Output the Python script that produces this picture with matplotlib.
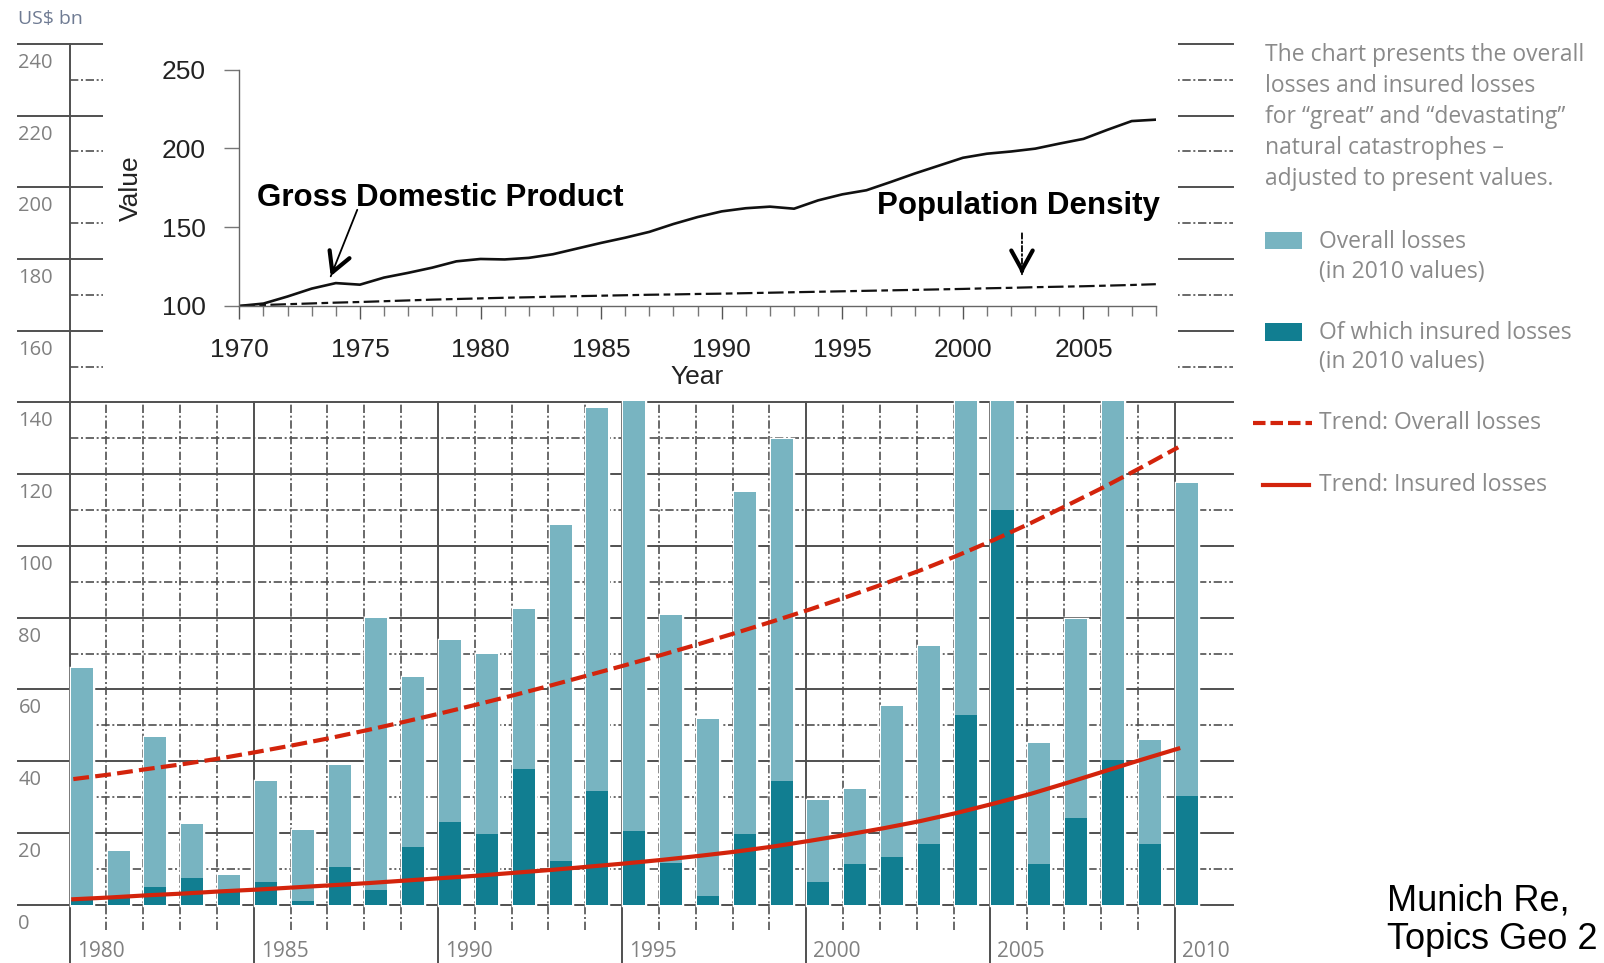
import numpy as np
import matplotlib.pyplot as plt
from matplotlib.patches import Rectangle
from matplotlib.lines import Line2D

plt.rcParams['font.family'] = ['Liberation Sans', 'DejaVu Sans']

# Natural catastrophes 1980-2010, US$ bn in 2010 values
years = list(range(1980, 2011))
overall = [66, 15, 46.8, 22.4, 8.2, 34.6, 20.8, 38.8, 79.8, 63.4,
           73.8, 70, 82.3, 105.8, 138.4, 175, 80.7, 51.8, 115, 129.7,
           29.1, 32.1, 55.4, 72, 150, 225, 45, 79.7, 195, 46, 117.5]
insured = [1.2, 2.5, 5, 7.5, 3.5, 6.3, 1, 10.6, 4, 16.2,
           23, 19.8, 37.7, 12.3, 31.8, 20.5, 11.5, 2.5, 19.8, 34.6,
           6.4, 11.2, 13.2, 16.9, 53, 110, 11.3, 24.2, 40.2, 16.9, 30.2]
trend_overall = [35.0, 36.3, 37.8, 39.2, 40.8, 42.6, 44.5, 46.5, 48.7, 51.0,
                 53.4, 55.9, 58.5, 61.2, 64.0, 66.8, 69.7, 72.7, 75.8, 79.0,
                 82.3, 85.8, 89.4, 93.2, 97.3, 101.7, 106.4, 111.4, 116.5, 121.9, 127.5]
trend_insured = [1.5, 2.0, 2.6, 3.1, 3.7, 4.2, 4.8, 5.4, 6.0, 6.7,
                 7.4, 8.1, 8.9, 9.7, 10.6, 11.5, 12.5, 13.6, 14.8, 16.2,
                 17.8, 19.5, 21.3, 23.3, 25.6, 28.2, 30.9, 34.0, 37.2, 40.4, 43.5]

# GDP and population density index (1970 = 100)
idx_years = list(range(1970, 2009))
gdp = [100, 101.5, 106, 111, 114.5, 113.5, 118, 121, 124.3, 128.3,
       129.8, 129.5, 130.5, 132.8, 136.4, 140, 143.3, 147, 152, 156.4,
       160, 162, 163, 161.7, 167, 170.8, 173.4, 178.6, 184, 189,
       194, 196.6, 198, 199.8, 203, 206, 211.8, 217.3, 218.2]
pop = [100.0, 100.6, 101.1, 101.6, 102.1, 102.5, 103.0, 103.5, 104.0, 104.4,
       104.8, 105.2, 105.5, 105.9, 106.2, 106.5, 106.8, 107.1, 107.3, 107.6,
       107.8, 108.1, 108.4, 108.7, 109.0, 109.3, 109.6, 109.9, 110.2, 110.5,
       110.8, 111.2, 111.5, 111.9, 112.2, 112.5, 112.9, 113.3, 113.8]

light = '#78b4c1'
dark = '#117e91'
red = '#d3240c'
grid_c = '#505050'
label_c = '#808080'
dashdot = (0, (5, 1.6, 1.2, 1.6))

fig = plt.figure(figsize=(16.04, 9.63), dpi=100)

# ---- background loss chart ----
ax = fig.add_axes([0, 0, 1, 1])
ymin, ymax = -16.27, 252.2
ax.set_xlim(1978.11, 2021.66)
ax.set_ylim(ymin, ymax)
ax.axis('off')

x_left, x_right = 1978.61, 2011.58
for v in range(0, 241, 20):
    ax.plot([x_left, x_right], [v, v], color=grid_c, lw=1.4, zorder=1)
    ax.text(x_left, v - 5.3, str(v), family='Open Sans', fontsize=14.5,
            color=label_c, va='center', ha='left')
for v in range(10, 240, 20):
    ax.plot([1980, x_right], [v, v], color=grid_c, lw=1.2, ls=dashdot, zorder=1)
for yr in years:
    if yr % 5 == 0:
        top = 240 if yr == 1980 else 140
        ax.plot([yr, yr], [ymin, top], color=grid_c, lw=1.4, zorder=1)
        ax.text(yr + 0.19, -13.1, str(yr), family='Open Sans', fontsize=15,
                color=label_c, va='center', ha='left')
    else:
        ax.plot([yr, yr], [-7, 140], color=grid_c, lw=1.2, ls=dashdot, zorder=1)

ax.text(x_left, 247, 'US$ bn', family='Open Sans', fontsize=14,
        color='#6f7b93', va='center', ha='left')

bar_x = np.array(years) + 0.03
ax.bar(bar_x, overall, width=0.6, align='edge', color='white',
       edgecolor='white', lw=2.5, zorder=2)
ax.bar(bar_x, overall, width=0.6, align='edge', color=light, zorder=3)
ax.bar(bar_x, insured, width=0.6, align='edge', color=dark, zorder=4)

trend_x = np.array(years) + 0.1
ax.plot(trend_x, trend_overall, color=red, lw=3.0, ls=(0, (3.8, 1.5)), zorder=5)
ax.plot(trend_x, trend_insured, color=red, lw=3.0, zorder=5)

# white panel behind the index chart
fy140 = (140 - ymin) / (ymax - ymin)
fig.add_artist(Rectangle((0.0644, fy140 + 0.0013), 0.7347 - 0.0644,
                         1 - fy140, transform=fig.transFigure,
                         facecolor='white', edgecolor='none', zorder=0.5))

# ---- index chart ----
ins = fig.add_axes([0.1492, 0.6823, 0.5714, 0.2455])
ins.set_zorder(1)
ins.patch.set_alpha(0)
ins.plot(idx_years, gdp, color='#111111', lw=1.9)
ins.plot(idx_years, pop, color='#111111', lw=1.6, ls=(0, (7, 2, 3, 2)))
ins.set_xlim(1970, 2008)
ins.set_ylim(100, 250)
ins.set_xticks(range(1970, 2006, 5))
ins.set_xticks(range(1970, 2009), minor=True)
ins.set_yticks([100, 150, 200, 250])
for s in ['top', 'right']:
    ins.spines[s].set_visible(False)
for s in ['left', 'bottom']:
    ins.spines[s].set_color('#666666')
    ins.spines[s].set_linewidth(1)
ins.tick_params(axis='x', which='major', direction='out', length=9, width=1,
                color='#555555', labelsize=19, labelcolor='#222222', pad=14)
ins.tick_params(axis='x', which='minor', direction='out', length=7, width=1,
                color='#777777')
ins.tick_params(axis='y', direction='out', length=11, width=1, color='#777777',
                labelsize=19, labelcolor='#222222', pad=13)
ins.set_xlabel('Year', fontsize=19, color='#222222', labelpad=2)
ins.set_ylabel('Value', fontsize=19, color='#222222', labelpad=14)

ins.text(1970.72, 168.2, 'Gross Domestic Product', fontsize=22.5,
         fontweight='bold', va='center', ha='left')
ins.text(1996.42, 163.6, 'Population Density', fontsize=22.5,
         fontweight='bold', va='center', ha='left')


def arrow(tail, head, ls):
    ins.annotate('', xy=head, xytext=tail,
                 arrowprops=dict(arrowstyle='-', lw=1.3, color='k', ls=ls,
                                 shrinkA=0, shrinkB=0))
    near = (head[0] + 0.12 * (tail[0] - head[0]), head[1] + 0.12 * (tail[1] - head[1]))
    ins.annotate('', xy=head, xytext=near,
                 arrowprops=dict(arrowstyle='->,head_length=1.0,head_width=0.55',
                                 lw=3, color='k', mutation_scale=14,
                                 shrinkA=0, shrinkB=0))


arrow((1974.89, 161.0), (1973.79, 118.8), '-')
arrow((2002.45, 146.1), (2002.45, 120.1), (0, (3, 1.5, 1, 1.5)))

# ---- right-hand notes and legend ----
note = ['The chart presents the overall',
        'losses and insured losses',
        'for \u201cgreat\u201d and \u201cdevastating\u201d',
        'natural catastrophes \u2013',
        'adjusted to present values.']
for i, line in enumerate(note):
    fig.text(0.7889, 0.9426 - i * 0.03215, line, family='Open Sans',
             fontsize=16.5, color='#8a8a8a', va='center', ha='left')

fig.add_artist(Rectangle((0.7889, 0.7418), 0.023, 0.017,
                         transform=fig.transFigure, facecolor=light, edgecolor='none'))
fig.add_artist(Rectangle((0.7889, 0.6461), 0.023, 0.018,
                         transform=fig.transFigure, facecolor=dark, edgecolor='none'))
fig.add_artist(Line2D([0.7813, 0.8182], [0.5611, 0.5611], transform=fig.transFigure,
                      color=red, lw=3.0, ls=(0, (3.0, 1.2))))
fig.add_artist(Line2D([0.7876, 0.8163], [0.4963, 0.4963], transform=fig.transFigure,
                      color=red, lw=3.0))

legend_lines = [(0.7492, 'Overall losses'), (0.7173, '(in 2010 values)'),
                (0.6546, 'Of which insured losses'), (0.6238, '(in 2010 values)'),
                (0.5611, 'Trend: Overall losses'), (0.4963, 'Trend: Insured losses')]
for fy, line in legend_lines:
    fig.text(0.8221, fy, line, family='Open Sans', fontsize=16.5,
             color='#8a8a8a', va='center', ha='left')

fig.text(0.8648, 0.0648, 'Munich Re,', fontsize=26, color='black',
         va='center', ha='left')
fig.text(0.8648, 0.0244, 'Topics Geo 2', fontsize=26, color='black',
         va='center', ha='left')

fig.savefig('out.png', dpi=100)
